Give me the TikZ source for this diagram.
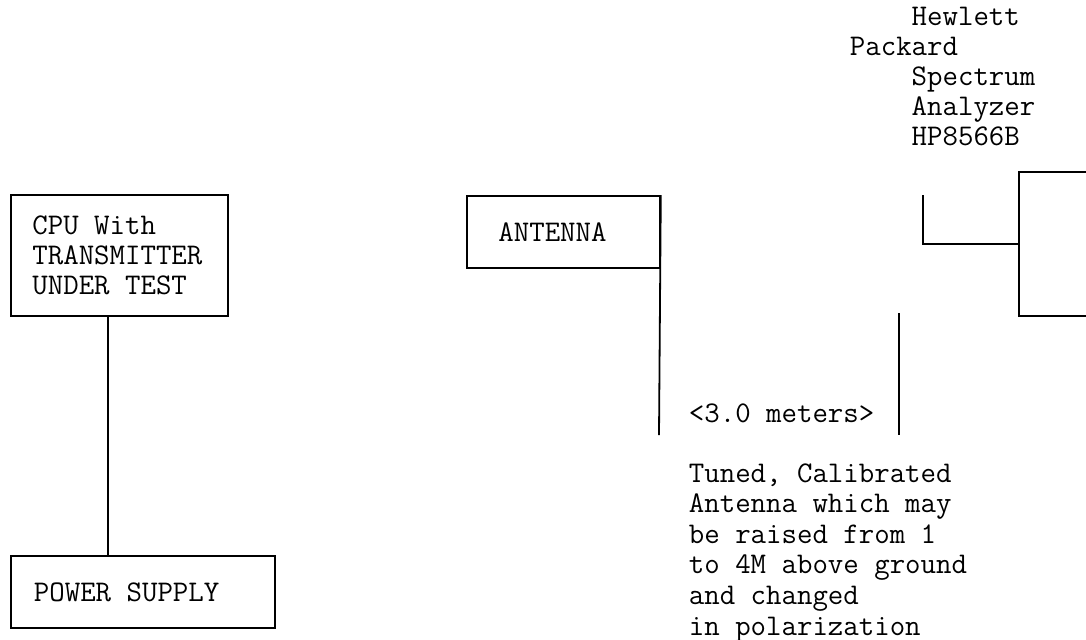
\documentclass[tikz,border=0pt]{standalone}
\usepackage{fontspec}
\usetikzlibrary{calc,positioning}

\begin{document}
\begin{tikzpicture}[x=0.5pt, y=-0.5pt, line width=0.9pt,
    font=\ttfamily\fontsize{15}{15}\selectfont,
    box/.style={draw, anchor=north west, align=left, inner ysep=0pt,
      execute at begin node={\spaceskip=0pt\xspaceskip=0pt\relax}},
    note/.style={anchor=base west, align=left, inner sep=0pt}]
  \clip (0,0) rectangle (1086,639);
  % transmitter side
  \node[box, minimum width=108.5pt, minimum height=60.5pt, text width=87pt, inner xsep=10.75pt] (cpu) at (10,194) {CPU With\\TRANSMITTER\\UNDER TEST};
  \node[box, minimum width=132pt, minimum height=36pt, text width=109pt, inner xsep=11.5pt] (psu) at (10,555) {POWER SUPPLY};
  \coordinate (tap) at ($(cpu.south west)!0.447!(cpu.south east)$);
  \draw (tap) -- (tap |- psu.north);
  % receiving antenna
  \node[box, minimum width=96.5pt, minimum height=36pt, text width=65pt, inner xsep=15.75pt] (ant) at (466,195) {ANTENNA};
  \coordinate (mast) at (659,435);
  \draw (ant.north east) -- (mast);
  \coordinate (far top) at (899,313);
  \coordinate (far bot) at (899,435);
  \draw (far top) -- (far bot);
  \node[note] (dist) at (688,422) {<3.0 meters>};
  \node[note, font=\ttfamily\fontsize{15}{15.3}\selectfont] (desc) at (688,635) {Tuned, Calibrated\\Antenna which may\\be raised from 1\\to 4M above ground\\and changed\\in polarization};
  % spectrum analyzer
  \node[box, minimum width=120pt, minimum height=72pt] (sa) at (1018,171) {};
  \coordinate (lead) at (923,195);
  \draw (lead) |- (sa.west);
  \node[note] (hp) at (849,145) {\phantom{xxxx}Hewlett\\Packard\\\phantom{xxxx}Spectrum\\\phantom{xxxx}Analyzer\\\phantom{xxxx}HP8566B};
\end{tikzpicture}
\end{document}
